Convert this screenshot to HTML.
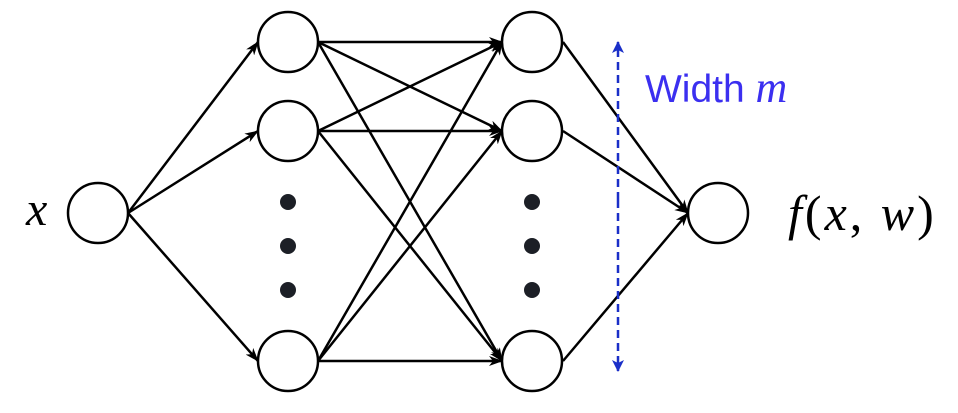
<!DOCTYPE html>
<html><head><meta charset="utf-8"><style>
html,body{margin:0;padding:0;background:#fff;width:958px;height:413px;overflow:hidden}
.t{position:absolute;font-family:"Liberation Serif",serif;font-style:italic;color:#000}
</style></head><body>
<svg width="958" height="413" style="position:absolute;left:0;top:0">
<defs>
<marker id="a" markerWidth="14" markerHeight="10" refX="13" refY="5" orient="auto" markerUnits="userSpaceOnUse">
<path d="M0,0 L14,5 L0,10 L4,5 Z" fill="#000"/></marker>
<marker id="b" markerWidth="12" markerHeight="12" refX="11" refY="6" orient="auto" markerUnits="userSpaceOnUse">
<path d="M0,0 L12,6 L0,12 L3,6 Z" fill="#1a2fc8"/></marker>
</defs>
<g stroke="#000" stroke-width="2.5" fill="none" marker-end="url(#a)">
<line x1="128" y1="213" x2="258" y2="42"/>
<line x1="128" y1="213" x2="258" y2="131"/>
<line x1="128" y1="213" x2="258" y2="361"/>
<line x1="318" y1="42" x2="502" y2="42"/>
<line x1="318" y1="42" x2="502" y2="131"/>
<line x1="318" y1="42" x2="502" y2="361"/>
<line x1="318" y1="131" x2="502" y2="42"/>
<line x1="318" y1="131" x2="502" y2="131"/>
<line x1="318" y1="131" x2="502" y2="361"/>
<line x1="318" y1="361" x2="502" y2="42"/>
<line x1="318" y1="361" x2="502" y2="131"/>
<line x1="318" y1="361" x2="502" y2="361"/>
<line x1="563" y1="42" x2="688" y2="213"/>
<line x1="563" y1="131" x2="688" y2="213"/>
<line x1="563" y1="361" x2="688" y2="213"/>
</g>
<g stroke="#000" stroke-width="2.5" fill="#fff">
<circle cx="98" cy="213" r="30"/>
<circle cx="288" cy="42" r="30"/><circle cx="288" cy="131" r="30"/><circle cx="288" cy="361" r="30"/>
<circle cx="532" cy="42" r="30"/><circle cx="532" cy="131" r="30"/><circle cx="532" cy="361" r="30"/>
<circle cx="718" cy="213" r="30"/>
</g>
<g fill="#1c1f26">
<circle cx="288" cy="202" r="8"/><circle cx="288" cy="246" r="8"/><circle cx="288" cy="290" r="8"/>
<circle cx="532" cy="202" r="8"/><circle cx="532" cy="246" r="8"/><circle cx="532" cy="290" r="8"/>
</g>
<line x1="618" y1="200" x2="618" y2="42" stroke="#1a2fc8" stroke-width="2.5" stroke-dasharray="8,5" marker-end="url(#b)"/>
<line x1="618" y1="200" x2="618" y2="371" stroke="#1a2fc8" stroke-width="2.5" stroke-dasharray="8,5" marker-end="url(#b)"/>
</svg>
<div class="t" style="left:26px;top:182px;font-size:48px">x</div>
<div class="t" style="left:788px;top:184px;font-size:50px;letter-spacing:3px">f<span style="font-style:normal">(</span>x<span style="font-style:normal">,</span> w<span style="font-style:normal">)</span></div>
<div style="position:absolute;left:645px;top:62px;font-family:'Liberation Sans',sans-serif;font-size:39px;color:#3b2ff0">Width <span style="font-family:'Liberation Serif',serif;font-style:italic;font-size:44px">m</span></div>
</body></html>
